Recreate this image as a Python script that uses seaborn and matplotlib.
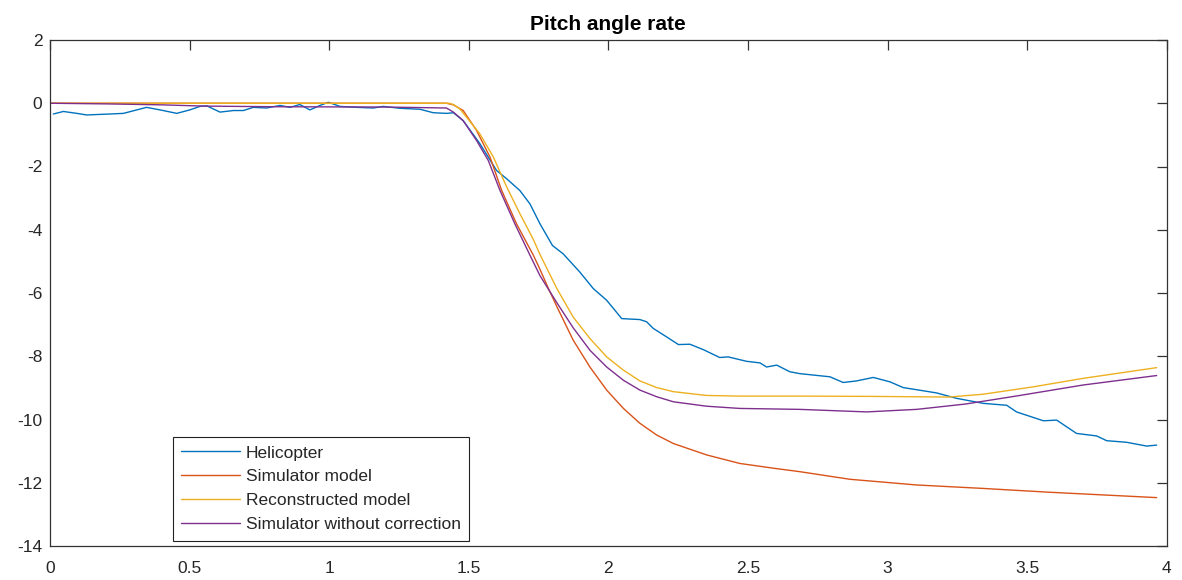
import numpy as np
import pandas as pd
import matplotlib
matplotlib.use("Agg")
import matplotlib.pyplot as plt
import seaborn as sns

# ---------------- data ----------------
heli_x = [0.012, 0.048, 0.096, 0.131, 0.215, 0.263, 0.346, 0.394, 0.454, 0.501,
          0.537, 0.561, 0.609, 0.657, 0.693, 0.728, 0.776, 0.824, 0.860, 0.895,
          0.931, 0.967, 0.997, 1.039, 1.099, 1.158, 1.194, 1.254, 1.325, 1.373,
          1.421, 1.445, 1.480, 1.540, 1.600, 1.636, 1.683, 1.719, 1.755, 1.800,
          1.838, 1.898, 1.946, 1.994, 2.048, 2.113, 2.137, 2.161, 2.209, 2.251,
          2.292, 2.340, 2.399, 2.429, 2.495, 2.543, 2.567, 2.603, 2.650, 2.686,
          2.794, 2.841, 2.889, 2.949, 3.009, 3.056, 3.176, 3.247, 3.343, 3.427,
          3.462, 3.558, 3.606, 3.677, 3.749, 3.785, 3.856, 3.928, 3.964]
heli_y = [-0.34, -0.26, -0.32, -0.37, -0.34, -0.32, -0.13, -0.21, -0.32, -0.21,
          -0.10, -0.08, -0.28, -0.23, -0.23, -0.13, -0.15, -0.07, -0.13, -0.04,
          -0.21, -0.07, 0.03, -0.10, -0.13, -0.15, -0.10, -0.16, -0.19, -0.30,
          -0.32, -0.30, -0.55, -1.28, -2.13, -2.39, -2.76, -3.18, -3.81, -4.50,
          -4.76, -5.34, -5.86, -6.23, -6.81, -6.84, -6.91, -7.12, -7.39, -7.63,
          -7.62, -7.79, -8.04, -8.02, -8.16, -8.21, -8.34, -8.28, -8.49, -8.55,
          -8.65, -8.83, -8.78, -8.67, -8.81, -8.99, -9.16, -9.33, -9.49, -9.55,
          -9.76, -10.04, -10.02, -10.44, -10.52, -10.67, -10.72, -10.84, -10.81]

sim_x = [0.0, 1.42, 1.445, 1.480, 1.528, 1.576, 1.618, 1.671, 1.731, 1.755,
         1.785, 1.815, 1.874, 1.934, 1.994, 2.054, 2.113, 2.173, 2.233, 2.352,
         2.471, 2.591, 2.686, 2.865, 3.104, 3.343, 3.580, 3.964]
sim_y = [0.0, 0.0, -0.05, -0.23, -0.86, -1.70, -2.76, -3.81, -4.80, -5.25,
         -5.85, -6.42, -7.49, -8.34, -9.07, -9.65, -10.12, -10.49, -10.76, -11.12,
         -11.39, -11.54, -11.65, -11.89, -12.07, -12.18, -12.30, -12.47]

rec_x = [0.0, 1.43, 1.445, 1.468, 1.492, 1.540, 1.588, 1.636, 1.683, 1.731,
         1.755, 1.815, 1.874, 1.934, 1.994, 2.054, 2.113, 2.173, 2.233, 2.352,
         2.471, 2.686, 2.950, 3.220, 3.343, 3.520, 3.700, 3.964]
rec_y = [0.0, 0.0, -0.04, -0.18, -0.44, -0.97, -1.70, -2.65, -3.49, -4.30,
         -4.78, -5.85, -6.76, -7.44, -8.02, -8.44, -8.78, -8.99, -9.12, -9.24,
         -9.26, -9.26, -9.27, -9.29, -9.20, -8.97, -8.70, -8.36]

nocor_x = [0.0, 0.2, 0.4, 0.55, 0.8, 1.2, 1.42, 1.445, 1.480, 1.528,
           1.570, 1.612, 1.665, 1.719, 1.755, 1.815, 1.874, 1.934, 1.994, 2.054,
           2.113, 2.173, 2.233, 2.352, 2.471, 2.686, 2.925, 3.104, 3.280, 3.460,
           3.700, 3.964]
nocor_y = [0.0, -0.02, -0.05, -0.09, -0.11, -0.12, -0.15, -0.28, -0.55, -1.18,
           -1.81, -2.76, -3.81, -4.80, -5.45, -6.30, -7.10, -7.81, -8.34, -8.76,
           -9.07, -9.28, -9.44, -9.58, -9.65, -9.68, -9.76, -9.68, -9.51, -9.26,
           -8.91, -8.61]

series_names = ["Helicopter", "Simulator model", "Reconstructed model",
                "Simulator without correction"]
series_colors = ["#0072BD", "#D95319", "#EDB120", "#7E2F8E"]

x_ticks = [0, 0.5, 1, 1.5, 2, 2.5, 3, 3.5, 4]
x_tick_labels = ["0", "0.5", "1", "1.5", "2", "2.5", "3", "3.5", "4"]
y_ticks = [-14, -12, -10, -8, -6, -4, -2, 0, 2]
y_tick_labels = ["-14", "-12", "-10", "-8", "-6", "-4", "-2", "0", "2"]
title_text = "Pitch angle rate"

# ---------------- style ----------------
sns.set_theme(style="white")
plt.rcParams["font.family"] = ["Liberation Sans", "DejaVu Sans"]
plt.rcParams["axes.edgecolor"] = "#333333"

fig = plt.figure(figsize=(11.82, 5.8), dpi=100)
ax = fig.add_axes([50 / 1182, 34 / 580, 1116.7 / 1182, 506 / 580])

frames = [
    pd.DataFrame({"x": heli_x, "y": heli_y}),
    pd.DataFrame({"x": sim_x, "y": sim_y}),
    pd.DataFrame({"x": rec_x, "y": rec_y}),
    pd.DataFrame({"x": nocor_x, "y": nocor_y}),
]
for df, name, col in zip(frames, series_names, series_colors):
    sns.lineplot(data=df, x="x", y="y", ax=ax, color=col, label=name,
                 linewidth=1.0, sort=False, estimator=None)

ax.set_xlim(0, 4)
ax.set_ylim(-14, 2)
ax.set_xticks(x_ticks)
ax.set_xticklabels(x_tick_labels)
ax.set_yticks(y_ticks)
ax.set_yticklabels(y_tick_labels)
ax.set_xlabel("")
ax.set_ylabel("")

for s in ax.spines.values():
    s.set_visible(True)
    s.set_linewidth(0.9)
    s.set_color("#333333")

ax.tick_params(axis="both", which="major", direction="in", length=7.2,
               width=0.9, color="#333333", labelsize=12.5, labelcolor="#262626",
               top=True, right=True)
ax.tick_params(axis="x", pad=11)
ax.tick_params(axis="y", pad=5.5)

ax.set_title(title_text, fontsize=15, fontweight="bold", color="black", pad=7.3)

leg = ax.legend(loc="lower left", bbox_to_anchor=(0.1099, 0.0105),
                borderaxespad=0, frameon=True, fancybox=False,
                edgecolor="#222222", framealpha=1, fontsize=12.5,
                handlelength=3.4, handletextpad=0.3, borderpad=0.5,
                labelspacing=0.5)
leg.get_frame().set_linewidth(0.8)
for t in leg.get_texts():
    t.set_color("#262626")

fig.savefig("out.png", dpi=100)
